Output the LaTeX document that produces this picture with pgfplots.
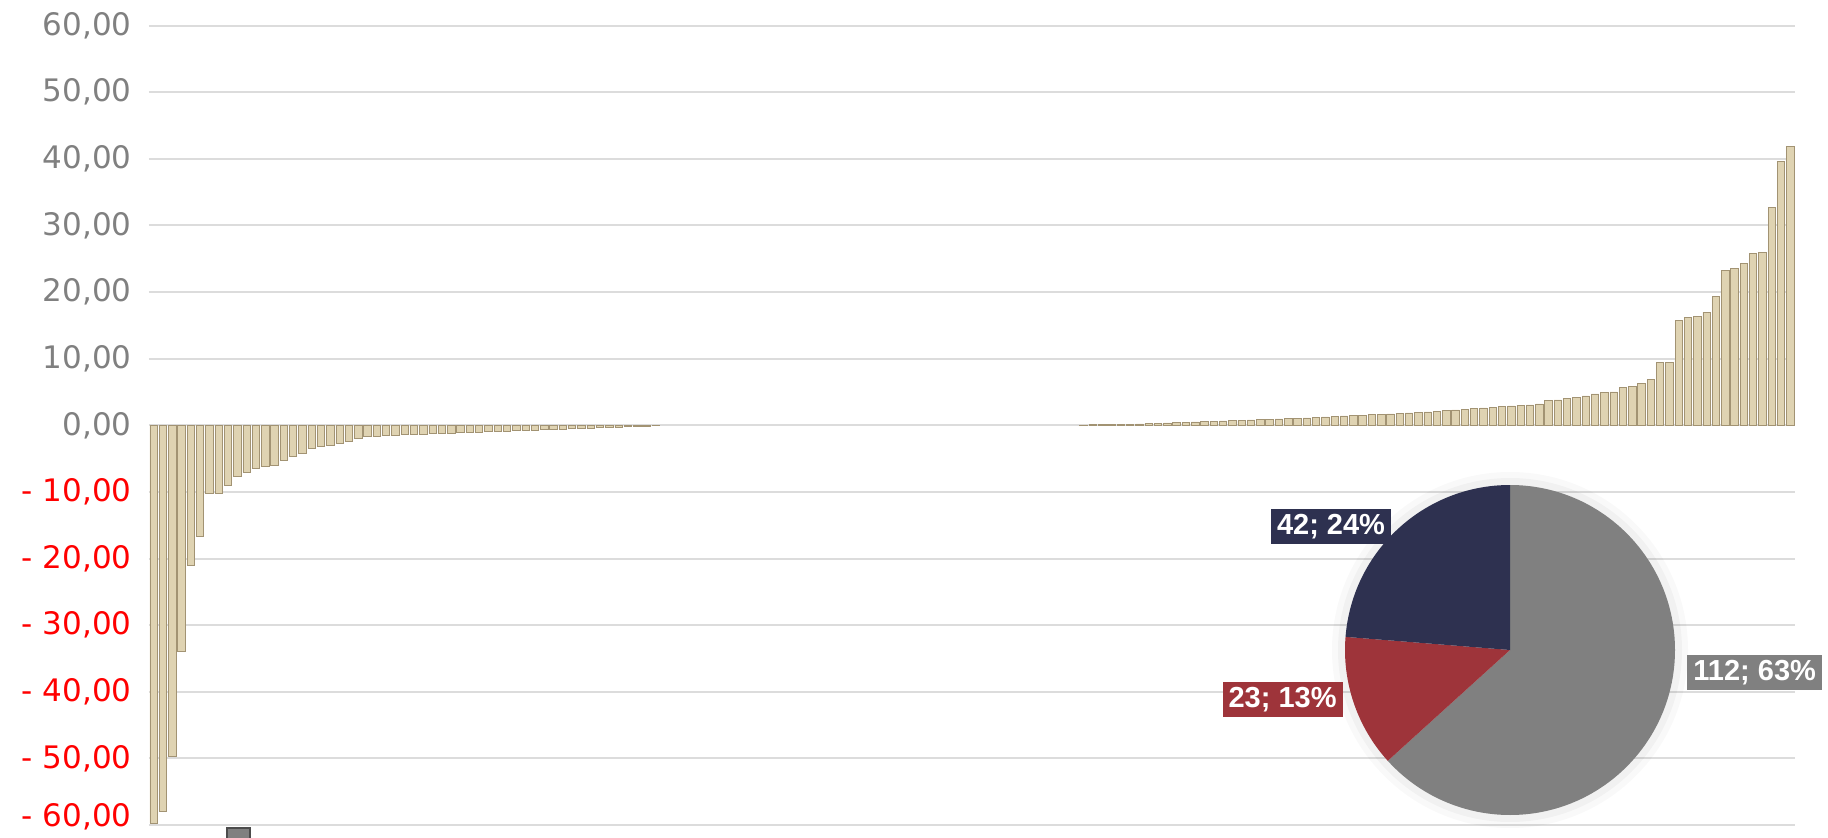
\documentclass[border=0pt]{standalone}
\usepackage{fontspec}
\setmainfont{DejaVu Sans}
\newfontfamily\labfont{Liberation Sans}
\usepackage{pgfplots}
\usepackage{pgfplotstable}
\pgfplotsset{compat=1.18}
\definecolor{barfill}{HTML}{DFD3B2}
\definecolor{baredge}{HTML}{A29373}
\definecolor{gridc}{HTML}{DCDCDC}
\definecolor{tickgray}{HTML}{808080}
\definecolor{piegray}{HTML}{808080}
\definecolor{piered}{HTML}{9E343A}
\definecolor{pienavy}{HTML}{2E3150}

\pgfplotstableread{
x v
0 -59.7
1 -58.0
2 -49.7
3 -34.0
4 -21.0
5 -16.7
6 -10.2
7 -10.2
8 -9.0
9 -7.7
10 -7.0
11 -6.5
12 -6.2
13 -6.0
14 -5.2
15 -4.7
16 -4.2
17 -3.5
18 -3.2
19 -3.0
20 -2.7
21 -2.4
22 -2.0
23 -1.7
24 -1.6
25 -1.5
26 -1.45
27 -1.4
28 -1.35
29 -1.3
30 -1.25
31 -1.2
32 -1.15
33 -1.1
34 -1.05
35 -1.0
36 -0.95
37 -0.9
38 -0.85
39 -0.8
40 -0.75
41 -0.7
42 -0.65
43 -0.6
44 -0.55
45 -0.5
46 -0.45
47 -0.4
48 -0.35
49 -0.3
50 -0.25
51 -0.2
52 -0.15
53 -0.1
54 -0.05
55 0
56 0
57 0
58 0
59 0
60 0
61 0
62 0
63 0
64 0
65 0
66 0
67 0
68 0
69 0
70 0
71 0
72 0
73 0
74 0
75 0
76 0
77 0
78 0
79 0
80 0
81 0
82 0
83 0
84 0
85 0
86 0
87 0
88 0
89 0
90 0
91 0
92 0
93 0
94 0
95 0
96 0
97 0
98 0
99 0
100 0.05
101 0.08
102 0.1
103 0.12
104 0.15
105 0.18
106 0.2
107 0.25
108 0.3
109 0.35
110 0.4
111 0.45
112 0.5
113 0.55
114 0.6
115 0.65
116 0.7
117 0.75
118 0.8
119 0.85
120 0.9
121 0.95
122 1.0
123 1.05
124 1.1
125 1.2
126 1.25
127 1.3
128 1.4
129 1.45
130 1.5
131 1.6
132 1.65
133 1.7
134 1.8
135 1.85
136 1.9
137 2.0
138 2.1
139 2.2
140 2.3
141 2.4
142 2.5
143 2.6
144 2.7
145 2.8
146 2.9
147 3.0
148 3.05
149 3.2
150 3.7
151 3.8
152 4.0
153 4.15
154 4.4
155 4.7
156 4.9
157 5.0
158 5.7
159 5.8
160 6.3
161 6.9
162 9.5
163 9.5
164 15.8
165 16.2
166 16.3
167 17.0
168 19.3
169 23.2
170 23.5
171 24.3
172 25.8
173 25.9
174 32.7
175 39.65
176 41.8
}\bardata

% pie data
\def\pieGray{112}
\def\pieRed{23}
\def\pieNavy{42}

\begin{document}
\begin{tikzpicture}
\useasboundingbox (0,0) rectangle (914pt,418.5pt);
\begin{axis}[
  at={(74.5pt,6pt)}, anchor=south west,
  scale only axis, width=823pt, height=399.7pt,
  xmin=-0.5, xmax=176.5, ymin=-60, ymax=60,
  xtick=\empty,
  ytick={-50,-40,...,60},
  yticklabels={{\color{red}- 50,00},{\color{red}- 40,00},{\color{red}- 30,00},{\color{red}- 20,00},{\color{red}- 10,00},{0,00},{10,00},{20,00},{30,00},{40,00},{50,00},{60,00}},
  extra y ticks={-60},
  extra y tick labels={{\color{red}- 60{,}00}},
  extra y tick style={grid=major, yticklabel style={yshift=4pt}},
  yticklabel style={font=\fontsize{15.5}{18}\selectfont, text=tickgray, inner sep=0pt, anchor=east, xshift=-8.5pt},
  major tick length=0pt,
  axis line style={draw=none},
  ymajorgrids, grid style={draw=gridc, line width=1pt},
  clip=false,
]
\addplot[ybar, bar width=0.8, bar shift=0pt, draw=baredge, fill=barfill, line width=0.4pt,
  y filter/.expression={y==0 ? nan : y}]
  table[x=x, y=v] {\bardata};
\end{axis}

\pgfmathsetmacro{\pieTot}{\pieGray+\pieRed+\pieNavy}
\pgfmathsetmacro{\aA}{90-360*(\pieGray/\pieTot)}
\pgfmathsetmacro{\aB}{\aA-360*(\pieRed/\pieTot)}
\begin{axis}[
  at={(755pt,93.5pt)}, anchor=center,
  scale only axis, width=165pt, height=165pt,
  xmin=-1, xmax=1, ymin=-1, ymax=1, hide axis, clip=false]
\addplot[draw=none] coordinates {(0,0)};
\fill[black, opacity=0.025] (axis cs:0,0) circle[radius=89pt];
\fill[black, opacity=0.03] (axis cs:0,0) circle[radius=86pt];
\fill[piegray] (axis cs:0,0) -- ++(90:82.5pt) arc[start angle=90, end angle=\aA, radius=82.5pt] -- cycle;
\fill[piered] (axis cs:0,0) -- ++(\aA:82.5pt) arc[start angle=\aA, end angle=\aB, radius=82.5pt] -- cycle;
\fill[pienavy] (axis cs:0,0) -- ++(\aB:82.5pt) arc[start angle=\aB, end angle=-270, radius=82.5pt] -- cycle;
\end{axis}

\tikzset{pielab/.style={text=white, font=\labfont\bfseries\fontsize{14.5}{16}\selectfont, inner xsep=3pt, inner ysep=2.6pt, text height=10.2pt, text depth=2.2pt}}
\node[pielab, fill=pienavy] at (665.5pt,155.3pt) {42; 24\%};
\node[pielab, fill=piered] at (641.3pt,68.8pt) {23; 13\%};
\node[pielab, fill=piegray, anchor=west] at (843.5pt,82.3pt) {112; 63\%};

% legend marker (legend text cut off at the bottom edge)
\fill[tickgray, draw=black!70, line width=0.8pt] (113.5pt,-7pt) rectangle (125pt,4.5pt);
\end{tikzpicture}
\end{document}
